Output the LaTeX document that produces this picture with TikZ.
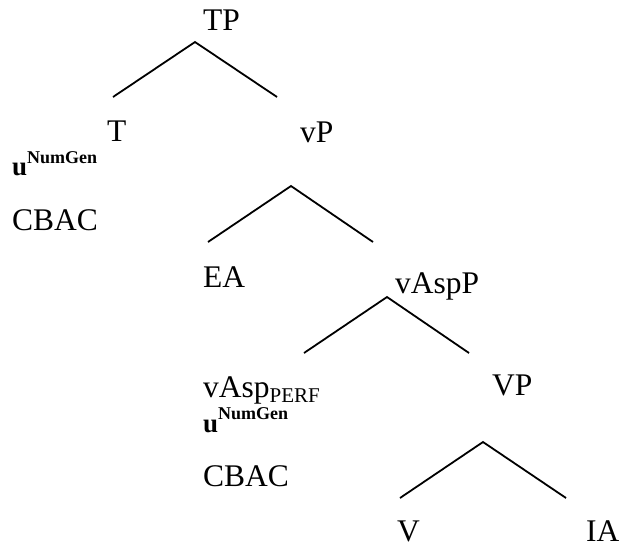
\documentclass[tikz,border=0pt]{standalone}
\usepackage{fontspec}
\setmainfont{Liberation Serif}
\begin{document}
\begin{tikzpicture}[x=1pt,y=-1pt,
  lbl/.style={anchor=base west,inner sep=0pt,font=\fontsize{31.5}{31.5}\selectfont},
  featlbl/.style={anchor=base west,inner sep=0pt,font=\fontsize{27}{27}\selectfont\bfseries},
  branch/.style={line width=1.8pt,line join=miter}]
\useasboundingbox (0,0) rectangle (620,544);

% labels
\node[lbl] (TP) at (203,30) {TP};
\node[lbl] (T) at (107,141) {T};
\node[featlbl] (uT) at (12,175) {u\raisebox{12pt}{\fontsize{18}{18}\selectfont NumGen}};
\node[lbl] (cbacT) at (12,230) {CBAC};
\node[lbl] (vP) at (300,142) {vP};
\node[lbl] (EA) at (203,287) {EA};
\node[lbl] (vAspP) at (395,293) {vAspP};
\node[lbl] (vAsp) at (203,397) {vAsp\raisebox{-5pt}{\fontsize{21}{21}\selectfont PERF}};
\node[featlbl] (uAsp) at (203,432) {u\raisebox{13pt}{\fontsize{18}{18}\selectfont NumGen}};
\node[lbl] (cbacAsp) at (203,486) {CBAC};
\node[lbl] (VP) at (492,395) {VP};
\node[lbl,text depth=0pt] (V) at (397,541) {V};
\node[lbl,text depth=0pt] (IA) at (586,541) {IA};

% branch points
\coordinate (tpA) at (195,42);
\coordinate (tpL) at (113,97);
\coordinate (tpR) at (277,97);
\coordinate (vpA) at (291,186);
\coordinate (vpL) at (208,242);
\coordinate (vpR) at (373,242);
\coordinate (aspA) at (387,297);
\coordinate (aspL) at (304,353);
\coordinate (aspR) at (469,353);
\coordinate (VPA) at (483,442);
\coordinate (VPL) at (400,498);
\coordinate (VPR) at (566,498);

\draw[branch] (tpL) -- (tpA) -- (tpR);
\draw[branch] (vpL) -- (vpA) -- (vpR);
\draw[branch] (aspL) -- (aspA) -- (aspR);
\draw[branch] (VPL) -- (VPA) -- (VPR);
\end{tikzpicture}
\end{document}
